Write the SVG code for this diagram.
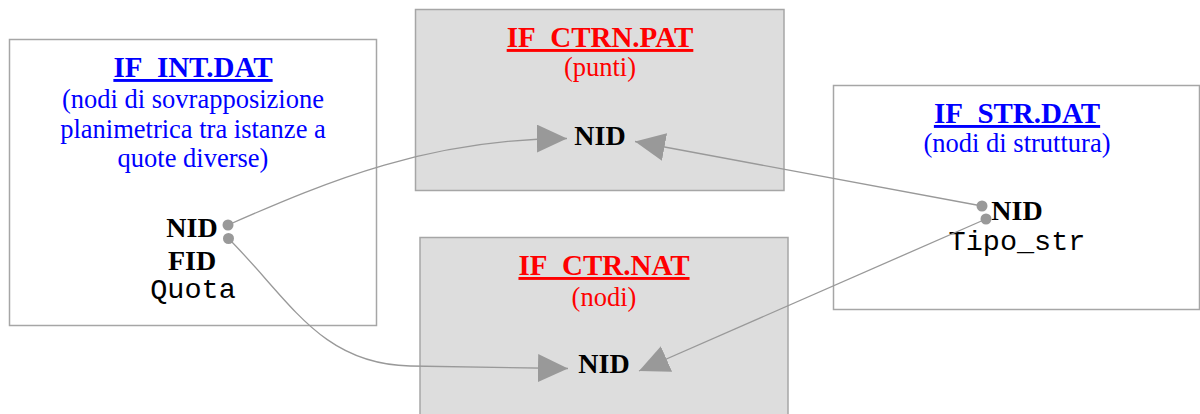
<svg xmlns="http://www.w3.org/2000/svg" width="1200" height="414" viewBox="0 0 1200 414">
<style>
.box{stroke:#a6a6a6;stroke-width:1.5}
.white{fill:#ffffff}
.grey{fill:#dddddd}
.title{font-family:"Liberation Serif","Times New Roman",serif;font-weight:bold;font-size:29px;text-anchor:middle;text-decoration:underline;text-decoration-thickness:2.5px}
.sub{font-family:"Liberation Serif","Times New Roman",serif;font-size:26.5px;text-anchor:middle}
.blue{fill:#0000ff}
.red{fill:#ff0000}
.fld{font-family:"Liberation Serif","Times New Roman",serif;font-weight:bold;font-size:28px;fill:#000000;text-anchor:middle}
.mono{font-family:"Liberation Mono","Courier New",monospace;font-size:28.5px;fill:#000000;text-anchor:middle}
.conn{fill:none;stroke:#999999;stroke-width:1.3}
.dot{fill:#999999}
</style>
<defs>
<marker id="arr" markerUnits="userSpaceOnUse" viewBox="0 0 30 28" refX="30" refY="14" markerWidth="30" markerHeight="28" orient="auto">
<path d="M0,0 L30,14 L0,28 z" fill="#999999"/>
</marker>
</defs>
<g id="if_int">
<rect class="box white" x="9.5" y="39.5" width="367" height="286"/>
<text class="title blue" x="193" y="77">IF_INT.DAT</text>
<text class="sub blue" x="193" y="107.5">(nodi di sovrapposizione</text>
<text class="sub blue" x="193" y="138">planimetrica tra istanze a</text>
<text class="sub blue" x="193" y="167">quote diverse)</text>
<text class="fld" x="192" y="237">NID</text>
<text class="fld" x="192" y="270">FID</text>
<text class="mono" x="193" y="298">Quota</text>
</g>
<g id="if_ctrn">
<rect class="box grey" x="415.5" y="9.5" width="368.5" height="181"/>
<text class="title red" x="600" y="47">IF_CTRN.PAT</text>
<text class="sub red" x="600" y="76">(punti)</text>
<text class="fld" x="600" y="145">NID</text>
</g>
<g id="if_ctr">
<rect class="box grey" x="420" y="237.5" width="368" height="190"/>
<text class="title red" x="604" y="275">IF_CTR.NAT</text>
<text class="sub red" x="604" y="306">(nodi)</text>
<text class="fld" x="604" y="373">NID</text>
</g>
<g id="if_str">
<rect class="box white" x="833.5" y="85.5" width="366" height="224"/>
<text class="title blue" x="1017" y="123">IF_STR.DAT</text>
<text class="sub blue" x="1017" y="151.5">(nodi di struttura)</text>
<text class="fld" x="1017" y="220">NID</text>
<text class="mono" x="1017" y="250">Tipo_str</text>
</g>
<g id="connectors">
<path class="conn" d="M228,225 C330,180 430,139 567,138.5" marker-end="url(#arr)"/>
<path class="conn" d="M228,238 C290,300 320,364 410,366 L568,368.5" marker-end="url(#arr)"/>
<path class="conn" d="M982,206 L635,141.5" marker-end="url(#arr)"/>
<path class="conn" d="M986,219 L639,371" marker-end="url(#arr)"/>
<circle class="dot" cx="228" cy="225" r="5.5"/>
<circle class="dot" cx="228.5" cy="238.5" r="5.5"/>
<circle class="dot" cx="982" cy="206" r="5.5"/>
<circle class="dot" cx="986" cy="219" r="5.5"/>
</g>
</svg>
